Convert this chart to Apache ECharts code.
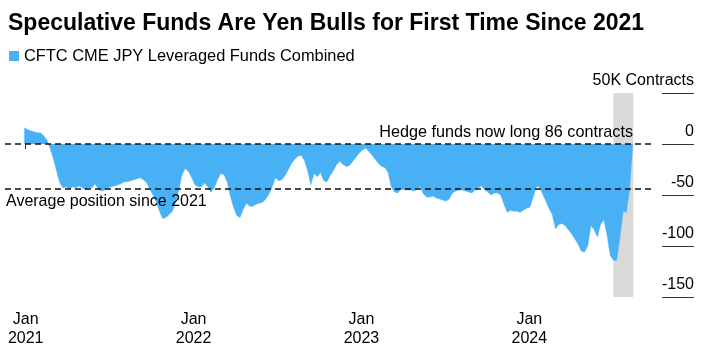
<!DOCTYPE html>
<html>
<head>
<meta charset="utf-8">
<script src="https://cdn.jsdelivr.net/npm/echarts@6/dist/echarts.min.js"></script>
<style>
  html, body { margin: 0; padding: 0; background: #fff; }
  #chart { width: 714px; height: 351px; }
</style>
</head>
<body>
<div id="chart"></div>
<script>
// weekly CFTC readings, thousand contracts, first report 2020-12-29
const firstWeek = Date.UTC(2020, 11, 29);
const positions = [
  16, 14, 13, 12, 11, 11, 8, 4, -4, -14,
  -26, -38, -43, -42, -44, -42, -43, -41, -43, -45,
  -43, -43, -39, -44, -46, -45, -43, -42, -41, -40,
  -39, -37, -37, -36, -35, -34, -33, -35, -38, -44,
  -50, -57, -66, -73, -72, -69, -66, -57, -45, -30,
  -24, -27, -33, -40, -42, -42, -38, -42, -47, -43,
  -35, -29, -30, -37, -51, -62, -70, -72, -64, -58,
  -61, -61, -59, -58, -57, -54, -49, -42, -33, -36,
  -35, -31, -25, -19, -15, -12, -11, -16, -26, -40,
  -29, -32, -28, -36, -37, -31, -26, -20, -17, -20,
  -22, -21, -17, -13, -9, -6, -4, -7, -11, -15,
  -19, -22, -23, -28, -42, -47, -48, -44, -45, -45,
  -45, -46, -44, -42, -49, -52, -52, -51, -53, -54,
  -55, -56, -54, -48, -46, -45, -45, -46, -47, -48,
  -45, -43, -41, -45, -47, -50, -48, -48, -50, -59,
  -67, -65, -66, -66, -67, -65, -63, -62, -53, -42,
  -42, -49, -56, -63, -69, -83, -79, -78, -80, -84,
  -88, -93, -98, -105, -106, -100, -80, -84, -91, -79,
  -74, -89, -109, -114, -114, -92, -66, -67, -45, 0.086
];
const averagePosition = -44;
const latestPosition = 0.086;
const yearTicks = ["2021-01-01", "2022-01-01", "2023-01-01", "2024-01-01"];
const highlightRange = ["2024-07-02", "2024-08-14"];
const seriesName = "CFTC CME JPY Leveraged Funds Combined";

const WEEK = 7 * 24 * 3600 * 1000;
const toTime = (d) => new Date(d + "T00:00:00Z").getTime();
const seriesData = positions.map((v, i) => [firstWeek + i * WEEK, v]);
const tickTimes = yearTicks.map(toTime);

const font = "'Liberation Sans', Arial, sans-serif";
const chart = echarts.init(document.getElementById("chart"));

chart.setOption({
  animation: false,
  textStyle: { fontFamily: font, color: "#000" },
  title: {
    text: "Speculative Funds Are Yen Bulls for First Time Since 2021",
    left: 3,
    top: 7,
    textStyle: { fontSize: 23, fontWeight: "bold", color: "#000", fontFamily: font },
  },
  legend: {
    data: [seriesName],
    left: 4,
    top: 43,
    icon: "rect",
    itemWidth: 10,
    itemHeight: 10,
    itemGap: 6,
    textStyle: { fontSize: 16.4, color: "#000", fontFamily: font },
  },
  grid: { left: 5, right: 61, top: 93, bottom: 54 },
  xAxis: {
    type: "value",
    min: toTime("2020-11-17"),
    max: toTime("2024-09-26"),
    axisLine: { show: false },
    splitLine: { show: false },
    axisTick: {
      show: true,
      customValues: tickTimes,
      length: 5,
      lineStyle: { color: "#333" },
    },
    axisLabel: {
      customValues: tickTimes,
      formatter: (v) => "Jan\n" + new Date(v).getUTCFullYear(),
      fontSize: 16,
      lineHeight: 19,
      margin: 13,
      color: "#000",
      fontFamily: font,
    },
  },
  yAxis: {
    type: "value",
    position: "right",
    offset: 9,
    min: -150,
    max: 50,
    interval: 50,
    axisLine: { show: false },
    splitLine: { show: false },
    axisTick: { show: true, length: 32, lineStyle: { color: "#333" } },
    axisLabel: {
      align: "right",
      verticalAlign: "bottom",
      margin: 32,
      fontSize: 16,
      lineHeight: 16,
      padding: [0, 0, 4, 0],
      color: "#000",
      fontFamily: font,
      formatter: (v) => (v === 50 ? "50K Contracts" : String(v)),
    },
  },
  graphic: [
    {
      type: "text",
      right: 81,
      top: 125,
      z: 100,
      style: { text: "Hedge funds now long 86 contracts", fontSize: 16.2, fill: "#000", fontFamily: font },
    },
    {
      type: "text",
      left: 6,
      top: 194,
      z: 100,
      style: { text: "Average position since 2021", fontSize: 16, fill: "#000", fontFamily: font },
    },
  ],
  series: [
    {
      // grey highlight band, kept behind the area
      name: "band",
      type: "line",
      data: [],
      z: 1,
      silent: true,
      markArea: {
        silent: true,
        itemStyle: { color: "#d9d9d9" },
        data: [[{ xAxis: toTime(highlightRange[0]) }, { xAxis: toTime(highlightRange[1]) }]],
      },
    },
    {
      name: seriesName,
      type: "line",
      data: seriesData,
      z: 2,
      showSymbol: false,
      lineStyle: { width: 0.5, color: "#48b1f5" },
      itemStyle: { color: "#48b1f5" },
      areaStyle: { color: "#48b1f5", opacity: 1 },
      markLine: {
        silent: true,
        symbol: "none",
        label: { show: false },
        lineStyle: { color: "#111", type: [6, 4], width: 1.5 },
        data: [{ yAxis: latestPosition }, { yAxis: averagePosition }],
        z: 5,
      },
    },
  ],
});
</script>
</body>
</html>
